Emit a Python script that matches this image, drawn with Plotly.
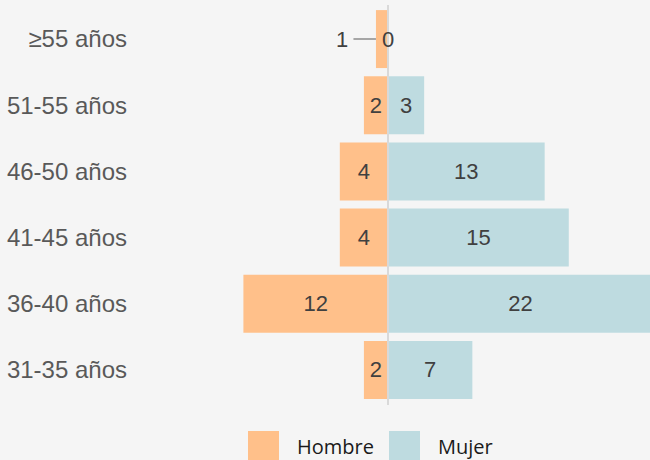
import plotly.graph_objects as go

categories = ["31-35 años", "36-40 años", "41-45 años", "46-50 años", "51-55 años", "≥55 años"]
hombre = [2, 12, 4, 4, 2, 1]
mujer = [7, 22, 15, 13, 3, 0]
series_names = ["Hombre", "Mujer"]

C_H = "#ffc08a"
C_M = "#bedbe0"
BG = "#f5f5f5"
LABEL_FONT = dict(family="Liberation Sans, Arial", size=22, color="#404040")
SMALL = 2  # bars shorter than this get an outside label

fig = go.Figure()
fig.add_trace(go.Bar(
    y=categories, x=[-v for v in hombre], orientation="h", name=series_names[0],
    marker=dict(color=C_H, line=dict(width=0)),
    text=[str(v) if v >= SMALL else "" for v in hombre],
    textposition="inside", insidetextanchor="middle", textfont=LABEL_FONT,
    showlegend=False, hoverinfo="skip",
))
fig.add_trace(go.Bar(
    y=categories, x=mujer, orientation="h", name=series_names[1],
    marker=dict(color=C_M, line=dict(width=0)),
    text=[str(v) if v >= SMALL else "" for v in mujer],
    textposition="inside", insidetextanchor="middle", textfont=LABEL_FONT,
    showlegend=False, hoverinfo="skip",
))

annotations = []
for cat, v in zip(categories, hombre):
    if v < SMALL:
        annotations.append(dict(x=-v, y=cat, xref="x", yref="y", text=str(v),
                                showarrow=True, arrowhead=0, arrowwidth=2, arrowcolor="#a6a6a6",
                                ax=-34, ay=0, font=LABEL_FONT, borderpad=5))
for cat, v in zip(categories, mujer):
    if v < SMALL:
        annotations.append(dict(x=v, y=cat, xref="x", yref="y", text=str(v),
                                showarrow=False, xanchor="center", font=LABEL_FONT))

L, R, T, B = 140, 0, 6, 57
W, H = 650, 460
pw, ph = W - L - R, H - T - B
def px_to_paper_x(px):
    return (px - L) / pw
def px_to_paper_y(py):
    return (H - B - py) / ph

shapes = [dict(type="line", xref="x", yref="paper", x0=0, x1=0, y0=px_to_paper_y(405), y1=px_to_paper_y(5),
               line=dict(color="#d9d9d9", width=2), layer="above")]
leg = [(series_names[0], C_H, 248, 295), (series_names[1], C_M, 389, 436)]
for name, col, sx, tx in leg:
    shapes.append(dict(type="rect", xref="paper", yref="paper",
                       x0=px_to_paper_x(sx), x1=px_to_paper_x(sx + 31),
                       y0=px_to_paper_y(466), y1=px_to_paper_y(431),
                       fillcolor=col, line=dict(width=0)))
    annotations.append(dict(xref="paper", yref="paper", x=px_to_paper_x(tx), y=px_to_paper_y(446),
                            text=name, showarrow=False, xanchor="left", yanchor="middle",
                            font=dict(family="Open Sans", size=20, color="#1a1a1a")))

fig.update_layout(
    width=W, height=H, paper_bgcolor=BG, plot_bgcolor=BG,
    margin=dict(l=L, r=R, t=T, b=B),
    barmode="relative", bargap=0.124,
    xaxis=dict(range=[-20.58, 21.74], visible=False, fixedrange=True),
    yaxis=dict(categoryorder="array", categoryarray=categories, showgrid=False, zeroline=False,
               showline=False, ticks="", ticklabelstandoff=12, fixedrange=True,
               tickfont=dict(family="Liberation Sans, Arial", size=24, color="#595959")),
    shapes=shapes, annotations=annotations, showlegend=False,
)
fig.write_html("out.html", config={"displayModeBar": False, "staticPlot": True},
               post_script="document.body.style.margin='0';document.body.style.overflow='hidden';")
